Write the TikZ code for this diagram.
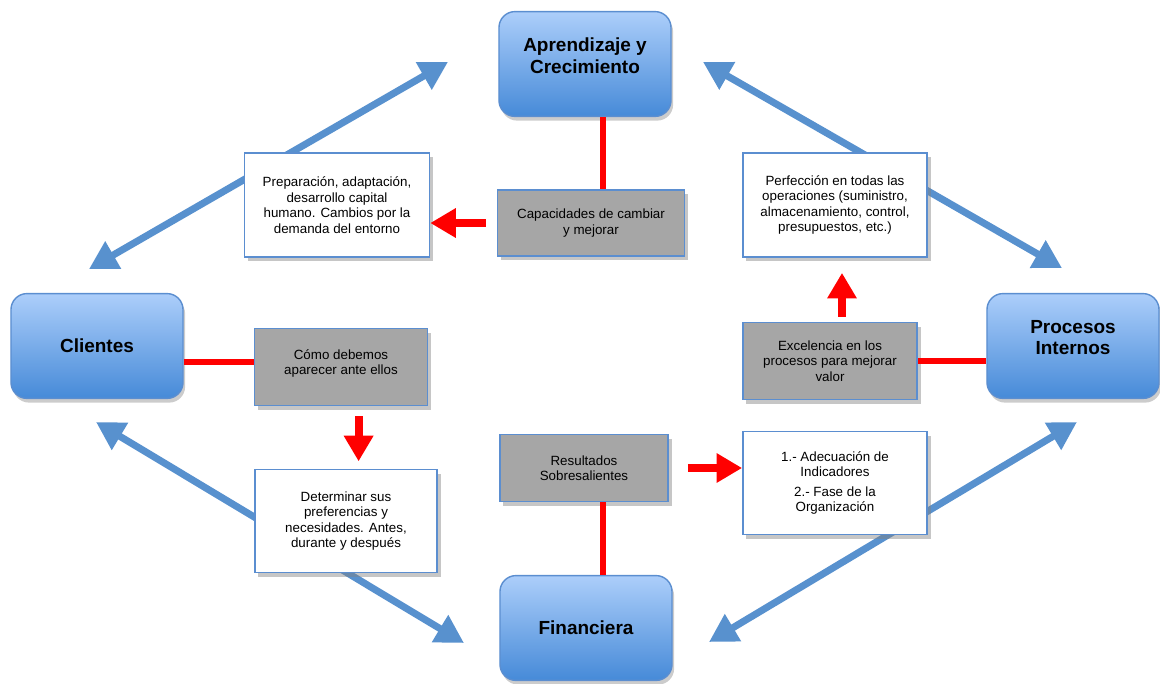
\documentclass[tikz,border=0pt]{standalone}
\usepackage{fontspec}
\setmainfont{Liberation Sans}
\usepackage{tikz}
\usetikzlibrary{positioning,shadows,arrows.meta}
\definecolor{boxtop}{RGB}{172,206,250}
\definecolor{boxbot}{RGB}{70,138,216}
\definecolor{boxline}{RGB}{91,142,208}
\definecolor{ringblue}{RGB}{88,145,206}
\definecolor{goalgray}{RGB}{166,166,166}
\tikzset{
	persp/.style={
		rectangle, rounded corners=0.4cm,
		top color=boxtop, bottom color=boxbot,
		draw=boxline, line width=1pt,
		minimum width=4.3cm, minimum height=2.62cm,
		align=center, font=\fontsize{13.5}{15.5}\selectfont\bfseries,
		drop shadow={opacity=0.4, shadow xshift=1.5pt, shadow yshift=-3pt}
	},
	goal/.style={
		rectangle, fill=goalgray, draw=boxline, line width=1.2pt,
		align=center, font=\fontsize{9.5}{11}\selectfont,
		drop shadow={opacity=0.45, shadow xshift=2.5pt, shadow yshift=-3pt}
	},
	detail/.style={goal, fill=white},
	link/.style={draw=red, line width=4.4pt},
	push/.style={draw=red, line width=5.6pt, -{Triangle[length=0.64cm, width=0.7cm]}},
	ring/.style={draw=ringblue, line width=5pt,
		{Triangle[length=0.7cm, width=0.75cm]}-{Triangle[length=0.7cm, width=0.75cm]}}
}
\begin{document}
\begin{tikzpicture}[x=0.025cm, y=-0.025cm]
	\useasboundingbox (0,0) rectangle (1160,684);
	% ends of the blue arrows
	\coordinate (cliA) at (89,269);
	\coordinate (aprC) at (448,62);
	\coordinate (aprP) at (703,62);
	\coordinate (proA) at (1062,268);
	\coordinate (cliF) at (96,422);
	\coordinate (finC) at (464,643);
	\coordinate (finP) at (709,642);
	\coordinate (proF) at (1077,422);
	\draw[ring] (cliA) -- (aprC);
	\draw[ring] (aprP) -- (proA);
	\draw[ring] (cliF) -- (finC);
	\draw[ring] (finP) -- (proF);
	% perspectives
	\node[persp] (apr) at (585,64) {Aprendizaje y\\Crecimiento\\[-3.5pt]\mbox{}};
	\node[persp] (cli) at (97,346) {Clientes};
	\node[persp] (pro) at (1073,346) {Procesos\\Internos\\[-3.5pt]\mbox{}};
	\node[persp] (fin) at (586,628) {Financiera};
	% gray boxes
	\node[goal, minimum width=4.67cm, minimum height=1.65cm] (cap) at (591,223) {Capacidades de cambiar\\y mejorar};
	\node[goal, minimum width=4.33cm, minimum height=1.93cm] (como) at (341,367) {Cómo debemos\\aparecer ante ellos\\[-4pt]\mbox{}};
	\node[goal, minimum width=4.35cm, minimum height=1.93cm] (exc) at (830,361) {Excelencia en los\\procesos para mejorar\\valor};
	\node[goal, minimum width=4.2cm, minimum height=1.68cm] (res) at (584,468) {Resultados\\Sobresalientes};
	% white boxes
	\node[detail, minimum width=4.62cm, minimum height=2.6cm] (prep) at (337,205) {Preparación, adaptación,\\desarrollo capital\\humano. Cambios por la\\demanda del entorno};
	\node[detail, minimum width=4.55cm, minimum height=2.58cm] (det) at (346,521) {Determinar sus\\preferencias y\\necesidades. Antes,\\durante y después};
	\node[detail, minimum width=4.6cm, minimum height=2.6cm] (perf) at (835,205) {Perfección en todas las\\operaciones (suministro,\\almacenamiento, control,\\presupuestos, etc.)};
	\node[detail, minimum width=4.6cm, minimum height=2.58cm] (ade) at (835,483) {1.- Adecuación de\\Indicadores\\[3pt]2.- Fase de la\\Organización};
	% red links
	\coordinate (aprFoot) at ([xshift=0.45cm]apr.south);
	\draw[link] (aprFoot) -- (aprFoot |- cap.north);
	\coordinate (comoSide) at ([yshift=0.125cm]como.west);
	\draw[link] (comoSide) -- (comoSide -| cli.east);
	\draw[link] (exc.east) -- (exc.east -| pro.west);
	\coordinate (resFoot) at ([xshift=0.475cm]res.south);
	\draw[link] (resFoot) -- (resFoot |- fin.north);
	% red arrows
	\draw[push, shorten <=0.275cm] (cap.west) -- (cap.west -| prep.east);
	\coordinate (comoFoot) at ([xshift=0.44cm]como.south);
	\draw[push, shorten <=0.25cm, shorten >=0.18cm] (comoFoot) -- (comoFoot |- det.north);
	\coordinate (excTop) at ([xshift=0.3cm]exc.north);
	\draw[push, shorten <=0.125cm, shorten >=0.375cm] (excTop) -- (excTop |- perf.south);
	\draw[push, shorten <=0.475cm] (res.east) -- (res.east -| ade.west);
\end{tikzpicture}
\end{document}
